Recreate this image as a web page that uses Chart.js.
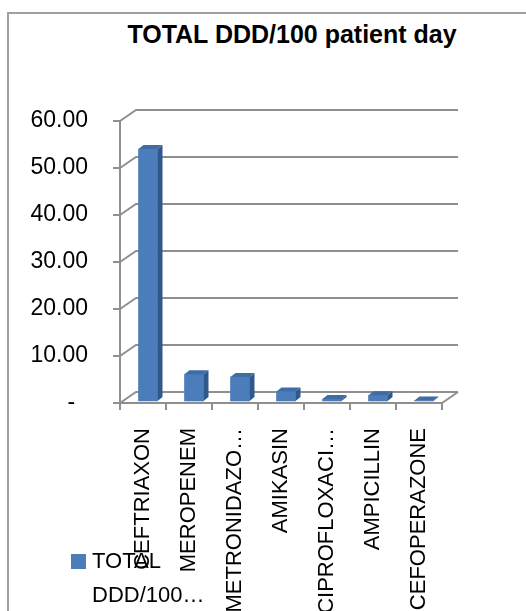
<!DOCTYPE html>
<html>
<head>
<meta charset="utf-8">
<script src="https://cdn.jsdelivr.net/npm/chart.js@4.4.1/dist/chart.umd.min.js"></script>
<style>
  html, body { margin: 0; padding: 0; background: #fff; overflow: hidden; }
  #wrap { position: relative; width: 526px; height: 611px; }
  #frame { position: absolute; left: 7px; top: 12px; width: 640px; height: 700px; border: 2px solid #a0a0a0; box-sizing: border-box; }
  #title { position: absolute; left: 92px; width: 400px; top: 20px; line-height: 30px; text-align: center;
           font: bold 25px "Liberation Sans", Arial, sans-serif; color: #000; }
  #legend { position: absolute; left: 71px; top: 544px; font: 22px "Liberation Sans", Arial, sans-serif; line-height: 34px; color: #000; }
  #legend .box { position: absolute; left: 0; top: 10px; width: 15px; height: 15px; background: #4a7dba; }
  #legend .txt { position: absolute; left: 21px; top: 0; white-space: nowrap; }
  #c { position: absolute; left: 0; top: 0; }
</style>
</head>
<body>
<div id="wrap">
  <div id="frame"></div>
  <div id="title">TOTAL DDD/100 patient day</div>
  <div style="position:absolute;left:0;top:0;width:526px;height:611px;"><canvas id="c"></canvas></div>
  <div id="legend"><div class="box"></div><div class="txt">TOTAL<br>DDD/100…</div></div>
</div>
<script>
const categories = ["CEFTRIAXON", "MEROPENEM", "METRONIDAZO…", "AMIKASIN", "CIPROFLOXACI…", "AMPICILLIN", "CEFOPERAZONE"];
const totalDdd = [53.6, 5.7, 5.1, 2.0, 0.4, 1.2, 0.1];
const yTickLabels = ["-  ", "10.00", "20.00", "30.00", "40.00", "50.00", "60.00"];

// 3d look: back wall offset and bar depth
const DX = 16, DY = 11;
const BAR_SHIFT_X = 5, BAR_SHIFT_Y = -2;
const BAR_DX = 5, BAR_DY = 4;

const frame3d = {
  id: "frame3d",
  beforeDatasetsDraw(chart) {
    const { ctx, chartArea: a, scales: { x, y } } = chart;
    ctx.save();
    ctx.strokeStyle = "#8f8f8f";
    ctx.lineWidth = 2;
    ctx.beginPath();
    y.ticks.forEach(t => {
      const py = y.getPixelForValue(t.value);
      ctx.moveTo(a.left, py);
      ctx.lineTo(a.left + DX, py - DY);
      ctx.lineTo(a.right + DX, py - DY);
      ctx.moveTo(a.left - 7, py);
      ctx.lineTo(a.left, py);
    });
    // front axis and floor
    ctx.moveTo(a.left, a.top);
    ctx.lineTo(a.left, a.bottom);
    ctx.lineTo(a.right, a.bottom);
    ctx.lineTo(a.right + DX, a.bottom - DY);
    for (let i = 0; i <= categories.length; i++) {
      const px = a.left + (a.right - a.left) * i / categories.length;
      ctx.moveTo(px, a.bottom);
      ctx.lineTo(px, a.bottom + 7);
    }
    ctx.stroke();
    ctx.restore();
    ctx.save();
    ctx.translate(BAR_SHIFT_X, BAR_SHIFT_Y);
  },
  afterDatasetsDraw(chart) {
    const ctx = chart.ctx;
    chart.getDatasetMeta(0).data.forEach(bar => {
      const { x, y, base, width } = bar.getProps(["x", "y", "base", "width"], true);
      const l = x - width / 2, r = x + width / 2;
      ctx.fillStyle = "#30588a";
      ctx.beginPath();
      ctx.moveTo(r, y);
      ctx.lineTo(r + BAR_DX, y - BAR_DY);
      ctx.lineTo(r + BAR_DX, base - BAR_DY);
      ctx.lineTo(r, base);
      ctx.closePath();
      ctx.fill();
      ctx.fillStyle = "#3e6ca4";
      ctx.beginPath();
      ctx.moveTo(l, y);
      ctx.lineTo(l + BAR_DX, y - BAR_DY);
      ctx.lineTo(r + BAR_DX, y - BAR_DY);
      ctx.lineTo(r, y);
      ctx.closePath();
      ctx.fill();
    });
    ctx.restore();
  }
};

Chart.defaults.font.family = '"Liberation Sans", Arial, sans-serif';
Chart.defaults.color = "#000";

new Chart(document.getElementById("c"), {
  type: "bar",
  data: {
    labels: categories,
    datasets: [{
      label: "TOTAL DDD/100 patient day",
      data: totalDdd,
      backgroundColor: "#4a7dba",
      barThickness: 19,
      clip: false,
    }],
  },
  options: {
    responsive: true,
    maintainAspectRatio: false,
    animation: false,
    layout: { padding: { top: 121, right: 84, left: 0, bottom: 0 } },
    plugins: { legend: { display: false }, title: { display: false }, tooltip: { enabled: false } },
    scales: {
      x: {
        grid: { display: false, drawTicks: false },
        border: { display: false },
        ticks: { autoSkip: false, minRotation: 90, maxRotation: 90, padding: 25, font: { size: 22 } },
        afterFit(scale) { scale.height = 208; },
      },
      y: {
        min: 0,
        max: 60,
        grid: { display: false, drawTicks: false },
        border: { display: false },
        ticks: {
          stepSize: 10,
          padding: 32,
          font: { size: 23 },
          callback: (v, i) => yTickLabels[i],
        },
        afterFit(scale) { scale.width = 120; },
      },
    },
  },
  plugins: [frame3d],
});
</script>
</body>
</html>
